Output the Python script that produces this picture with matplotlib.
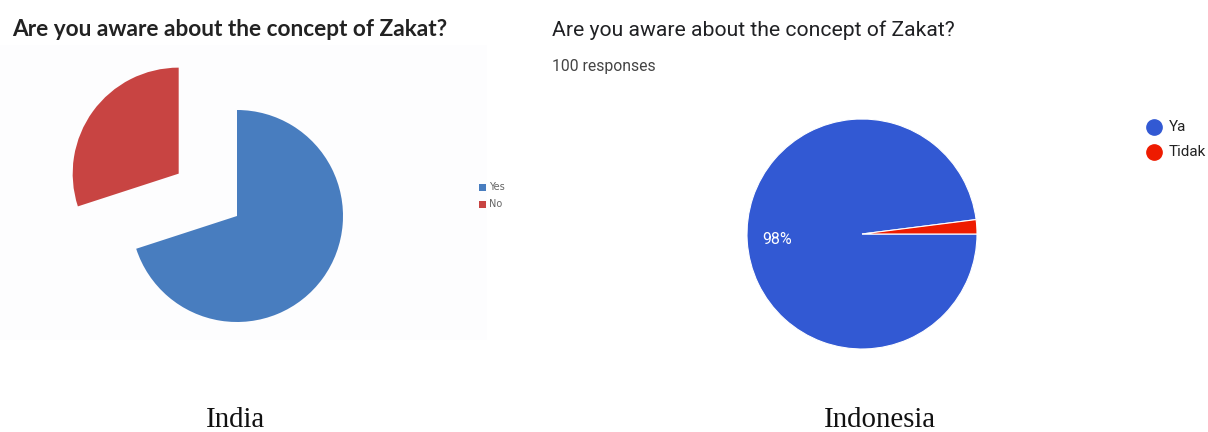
import matplotlib.pyplot as plt
from matplotlib.patches import Rectangle

# survey answers, India
india_labels = ['Yes', 'No']
india_values = [70, 30]
india_colors = ['#487dbf', '#c84442']

# survey answers, Indonesia
indo_labels = ['Ya', 'Tidak']
indo_values = [98, 2]
indo_colors = ['#3259d3', '#ee1b00']

question = 'Are you aware about the concept of Zakat?'

W, H = 1208, 432
fig = plt.figure(figsize=(W / 100, H / 100), dpi=100)
fig.patch.set_facecolor('white')


def px(x, y):
    return x / W, 1 - y / H


def pie_axes(cx, cy, r, half):
    # square axes where radius 1 equals r pixels
    ax = fig.add_axes([(cx - half) / W, (H - cy - half) / H, 2 * half / W, 2 * half / H])
    lim = half / r
    return ax, lim


# faint panel behind the India chart
fig.patches.append(Rectangle((0, 1 - 340 / H), 487 / W, 295 / H, transform=fig.transFigure,
                             facecolor='#fdfdfe', edgecolor='none', zorder=-5))

# India pie, "No" pulled out
ax1, lim1 = pie_axes(237, 216, 106, 180)
ax1.pie(india_values, colors=india_colors, startangle=90, counterclock=False,
        explode=[0, 0.68], wedgeprops=dict(linewidth=0))
ax1.set_xlim(-lim1, lim1)
ax1.set_ylim(-lim1, lim1)
ax1.set_aspect('equal')
ax1.axis('off')

# Indonesia pie
ax2, lim2 = pie_axes(862, 234, 115, 130)
ax2.pie(indo_values, colors=indo_colors, startangle=0, counterclock=False,
        autopct=lambda p: f'{p:.0f}%' if p > 5 else '', pctdistance=0.74,
        textprops=dict(color='white', fontsize=11.5, family='Roboto'),
        wedgeprops=dict(edgecolor='white', linewidth=0.8))
ax2.set_xlim(-lim2, lim2)
ax2.set_ylim(-lim2, lim2)
ax2.set_aspect('equal')
ax2.axis('off')

# titles
fig.text(*px(12, 29), question, family='Lato', fontweight='bold', fontsize=16.3,
         color='#222222', va='center', ha='left')
fig.text(*px(552, 30), question, family='Roboto', fontsize=15.2,
         color='#202124', va='center', ha='left')
fig.text(*px(552, 66), '100 responses', family='Roboto', fontsize=11.3,
         color='#444444', va='center', ha='left')

# India legend
for i, (lab, col) in enumerate(zip(india_labels, india_colors)):
    y = 187 + 17 * i
    fig.patches.append(Rectangle(px(479, y + 3.5), 7 / W, 7 / H, transform=fig.transFigure,
                                 facecolor=col, edgecolor='none'))
    fig.text(*px(489, y), lab, family='DejaVu Sans', fontsize=7, color='#666666',
             va='center', ha='left')

# Indonesia legend
for i, (lab, col) in enumerate(zip(indo_labels, indo_colors)):
    y = 127 + 25 * i
    fig.lines.append(plt.Line2D([1154 / W], [1 - y / H], transform=fig.transFigure,
                                marker='o', markersize=11, color=col, linestyle='none'))
    fig.text(*px(1169, y), lab, family='Roboto', fontsize=11, color='#222222',
             va='center', ha='left')

# country captions
fig.text(*px(235, 420), 'India', family='Liberation Serif', fontsize=20.8,
         color='#111111', va='center', ha='center')
fig.text(*px(880, 420), 'Indonesia', family='Liberation Serif', fontsize=20.8,
         color='#111111', va='center', ha='center')

fig.savefig('out.png', dpi=100, facecolor='white')
